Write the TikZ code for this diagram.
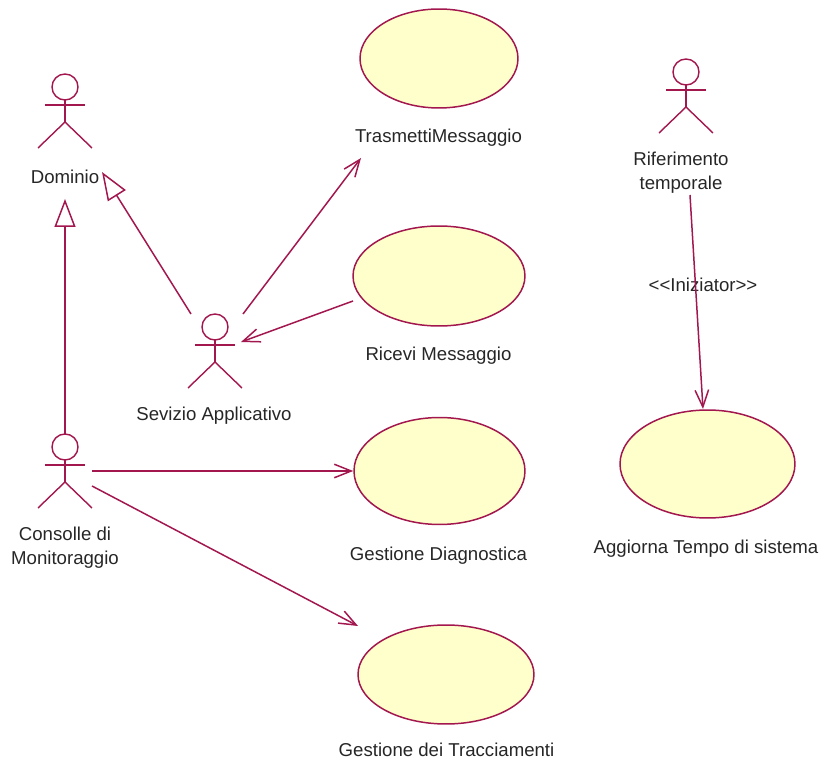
\documentclass[tikz,border=0pt]{standalone}
\usepackage{fontspec}
\setmainfont{Liberation Sans}
\usepackage{tikz}
\usetikzlibrary{arrows.meta, shapes.geometric}

\definecolor{umlline}{HTML}{A3174F}
\definecolor{umlfill}{HTML}{FFFFCB}

\tikzset{
  usecase/.style={ellipse, draw=umlline, fill=umlfill, line width=0.85pt, inner sep=0pt},
  umltext/.style={font=\fontsize{10.6pt}{13.6pt}\selectfont, text=black!85, align=center, inner sep=0pt},
  assoc/.style={draw=umlline, line width=0.85pt, -{Straight Barb[length=3.4mm,width=2.7mm]}},
  generalize/.style={draw=umlline, line width=0.85pt, -{Triangle[open,length=5.6mm,width=4.2mm]}},
  pics/actor/.style={code={
    \draw[umlline, line width=0.8pt] (0,13) circle (13);
    \draw[umlline, line width=0.8pt] (0,26) -- (0,48);
    \draw[umlline, line width=0.8pt] (-20,31) -- (20,31);
    \draw[umlline, line width=0.8pt] (-27,74) -- (0,48) -- (27,74);
  }}
}

\begin{document}
\begin{tikzpicture}[x=0.02cm, y=-0.02cm]
  \useasboundingbox (0,0) rectangle (823,760);

  % Actors
  \pic at (65,74) {actor};
  \pic at (215,314) {actor};
  \pic at (65,434) {actor};
  \pic at (686,59) {actor};

  % Use cases
  \node[usecase, minimum width=3.16cm, minimum height=1.98cm] (trasmetti) at (439,58.5) {};
  \node[usecase, minimum width=3.44cm, minimum height=2cm] (ricevi) at (439,276) {};
  \node[usecase, minimum width=3.42cm, minimum height=2.14cm] (diagnostica) at (439.5,471) {};
  \node[usecase, minimum width=3.52cm, minimum height=1.98cm] (tracciamenti) at (446,674.5) {};
  \node[usecase, minimum width=3.5cm, minimum height=2.16cm] (aggiorna) at (707.5,464) {};

  % Labels
  \node[umltext] (dominioLabel) at (65,177) {Dominio};
  \node[umltext] (sevizioLabel) at (214,416) {Sevizio Applicativo};
  \node[umltext] (consolleLabel) at (65,548) {Consolle di\\Monitoraggio};
  \node[umltext] (riferimentoLabel) at (681,173) {Riferimento\\temporale};
  \node[umltext] (trasmettiLabel) at (438.5,137.5) {TrasmettiMessaggio};
  \node[umltext] (riceviLabel) at (438.5,356) {Ricevi Messaggio};
  \node[umltext] (diagnosticaLabel) at (438.5,556) {Gestione Diagnostica};
  \node[umltext] (tracciamentiLabel) at (446.5,749.5) {Gestione dei Tracciamenti};
  \node[umltext] (aggiornaLabel) at (706,549) {Aggiorna Tempo di sistema};
  \node[umltext] (iniziatorLabel) at (703,285) {<{}<Iniziator>{}>};

  % Connector ends
  \coordinate (dominioBottom) at (65,199);
  \coordinate (dominioSide) at (102,172);
  \coordinate (sevizioLeft) at (191,314);
  \coordinate (sevizioRight) at (243,314);
  \coordinate (sevizioArm) at (241,342);
  \coordinate (consolleTop) at (65,434);
  \coordinate (consolleArm) at (92,471);
  \coordinate (consolleLeg) at (92,486);
  \coordinate (trasmettiEnd) at (361,158);
  \coordinate (riceviStart) at (353,301);
  \coordinate (tracciamentiEnd) at (358,626);
  \coordinate (riferimentoEnd) at (690,195);
  \coordinate (aggiornaEnd) at (703,409);

  % Connectors
  \draw[generalize] (consolleTop) -- (dominioBottom);
  \draw[generalize] (sevizioLeft) -- (dominioSide);
  \draw[assoc] (sevizioRight) -- (trasmettiEnd);
  \draw[assoc] (riceviStart) -- (sevizioArm);
  \draw[assoc] (consolleArm) -- (diagnostica.west);
  \draw[assoc] (consolleLeg) -- (tracciamentiEnd);
  \draw[assoc] (riferimentoEnd) -- (aggiornaEnd);
\end{tikzpicture}
\end{document}
